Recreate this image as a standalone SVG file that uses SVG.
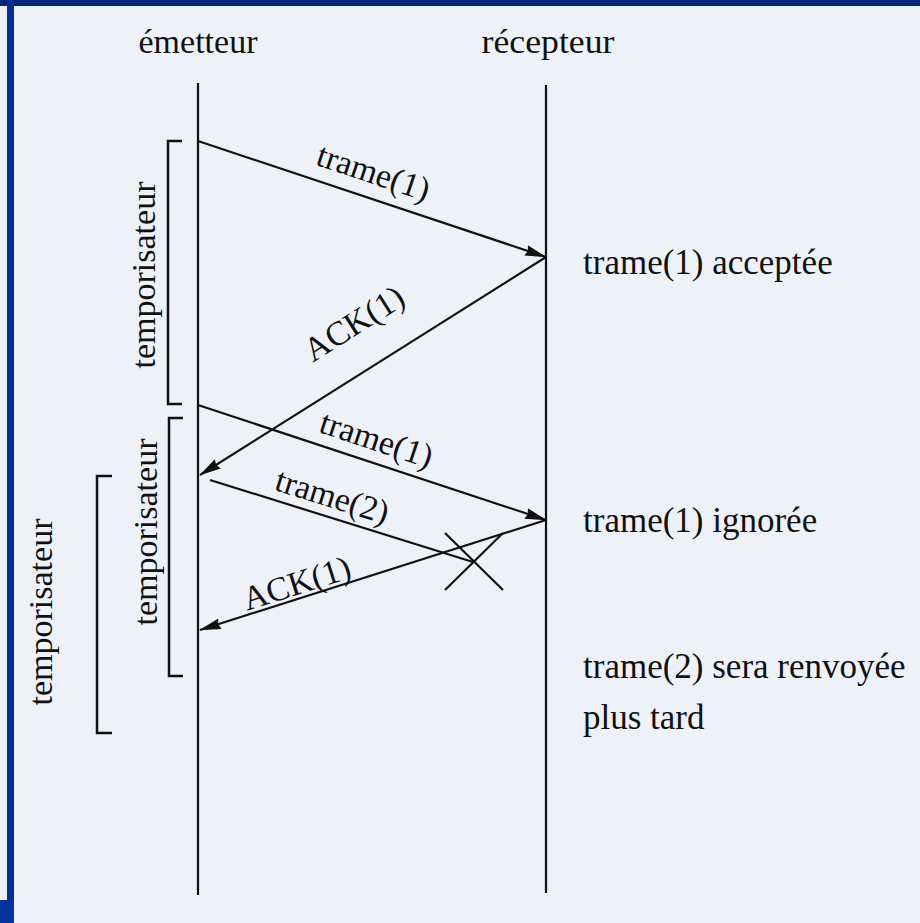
<svg xmlns="http://www.w3.org/2000/svg" width="920" height="923" viewBox="0 0 920 923">
<defs>
<style>
.t{font-family:"Liberation Serif","Times New Roman",serif;font-size:34px;fill:#111111}
.n{font-size:35px}
.ln{stroke:#111111;stroke-width:2.2;fill:none}
.br{stroke:#111111;stroke-width:2.5;fill:none}
</style>
<marker id="ah" viewBox="0 0 22 12" refX="21" refY="6" markerWidth="22" markerHeight="12" markerUnits="userSpaceOnUse" orient="auto">
<path d="M0,0.5 L22,6 L0,11.5 L2,6 Z" fill="#111111"/>
</marker>
</defs>
<rect x="0" y="0" width="920" height="923" fill="#eff1f8"/>
<rect x="0" y="0" width="920" height="6" fill="#002779"/>
<rect x="7" y="0" width="7" height="923" fill="#04308f"/>
<rect x="0" y="900" width="14" height="23" fill="#0534a0"/>

<g id="emetteur">
<text class="t" x="198" y="53" text-anchor="middle">émetteur</text>
<line class="ln" x1="198" y1="83" x2="198" y2="895"/>
</g>
<g id="recepteur">
<text class="t" x="548" y="53" text-anchor="middle" textLength="133" lengthAdjust="spacingAndGlyphs">récepteur</text>
<line class="ln" x1="546" y1="85" x2="546" y2="893"/>
</g>

<g id="timer1">
<polyline class="br" points="182,141 168,141 168,404 182,404"/>
<text class="t" transform="translate(155,275) rotate(-90)" text-anchor="middle">temporisateur</text>
</g>
<g id="timer2">
<polyline class="br" points="183,418 169,418 169,676 183,676"/>
<text class="t" transform="translate(157,532) rotate(-90)" text-anchor="middle">temporisateur</text>
</g>
<g id="timer3">
<polyline class="br" points="112,476 97,476 97,733 112,733"/>
<text class="t" transform="translate(52,612) rotate(-90)" text-anchor="middle">temporisateur</text>
</g>

<g id="connectors">
<line class="ln" x1="198" y1="141" x2="546" y2="257" marker-end="url(#ah)"/>
<line class="ln" x1="546" y1="257" x2="200" y2="475" marker-end="url(#ah)"/>
<line class="ln" x1="198" y1="405" x2="546" y2="520" marker-end="url(#ah)"/>
<line class="ln" x1="210" y1="480" x2="473" y2="562"/>
<line class="ln" x1="546" y1="520" x2="200" y2="630" marker-end="url(#ah)"/>
<line class="ln" x1="445" y1="533" x2="503" y2="590"/>
<line class="ln" x1="503" y1="533" x2="445" y2="590"/>
</g>

<g id="labels">
<text class="t" transform="translate(370,183) rotate(18.4)" text-anchor="middle">trame(1)</text>
<text class="t" transform="translate(360,333) rotate(-32.2)" text-anchor="middle">ACK(1)</text>
<text class="t" transform="translate(373,450) rotate(18.3)" text-anchor="middle">trame(1)</text>
<text class="t" transform="translate(329,507) rotate(17.3)" text-anchor="middle">trame(2)</text>
<text class="t" transform="translate(300,594) rotate(-17.6)" text-anchor="middle">ACK(1)</text>
</g>

<g id="notes">
<text class="t n" x="583" y="274">trame(1) acceptée</text>
<text class="t n" x="583" y="532">trame(1) ignorée</text>
<text class="t n" x="583" y="678">trame(2) sera renvoyée</text>
<text class="t n" x="583" y="729">plus tard</text>
</g>
</svg>
